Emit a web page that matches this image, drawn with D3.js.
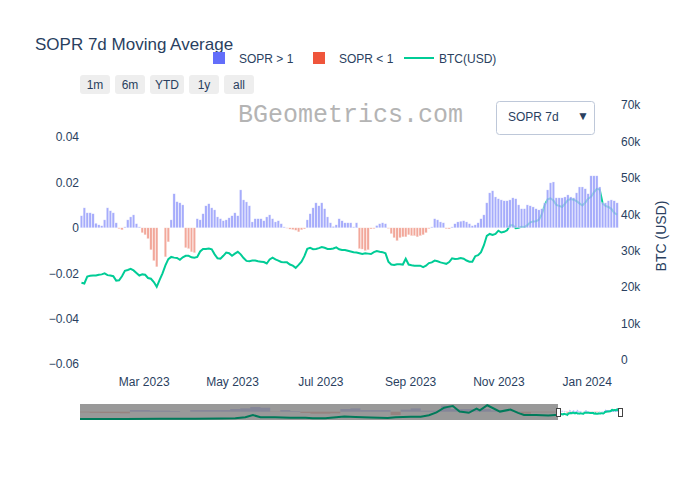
<!DOCTYPE html>
<html>
<head>
<meta charset="utf-8">
<script src="https://d3js.org/d3.v7.min.js"></script>
<style>
  body { margin: 0; background: #fff; }
  text { font-family: "Liberation Sans", Arial, sans-serif; fill: #2a3f5f; }
</style>
</head>
<body>
<svg id="chart" width="700" height="500"></svg>
<script>
// values, one entry every two days from this date
const startDate = new Date(2023, 0, 17);

const sopr = [
  .0053,.0088,.0066,.0066,.0062,.0020,.0013,.0009,.0035,.0088,.0075,.0066,.0022,-.0004,-.0009,.0004,
  .0035,.0048,.0057,.0018,.0004,-.0022,-.0031,-.0048,-.0097,-.0145,-.0172,0,0,-.0128,-.0062,.0035,
  .0150,.0115,.0110,.0101,-.0088,-.0092,-.0106,-.0110,.0040,.0035,.0062,.0097,.0106,.0088,.0079,.0048,
  .0040,.0031,.0035,.0044,.0053,.0066,.0053,.0167,.0123,.0114,.0097,.0026,.0040,.0040,.0040,.0031,
  .0048,.0057,.0040,.0026,.0031,.0018,.0004,-.0002,-.0006,-.0008,-.0011,-.0018,-.0009,-.0005,.0035,.0062,
  .0088,.0110,.0097,.0110,.0084,.0048,.0022,.0006,.0013,.0040,.0031,.0022,.0022,.0022,.0004,.0022,
  -.0092,-.0094,-.0101,-.0097,-.0005,-.0004,.0010,.0018,.0022,.0018,-.0003,-.0026,-.0044,-.0057,-.0044,-.0040,
  -.0040,-.0031,-.0035,-.0035,-.0040,-.0035,-.0031,-.0022,-.0004,.0004,.0040,.0035,.0026,.0022,-.0004,-.0005,
  .0004,.0018,.0026,.0029,.0031,.0026,.0018,.0009,.0013,.0022,.0040,.0057,.0110,.0154,.0163,.0136,
  .0128,.0123,.0119,.0119,.0123,.0132,.0128,.0101,.0084,.0084,.0101,.0097,.0092,.0084,.0079,.0084,
  .0110,.0167,.0198,.0202,.0132,.0132,.0132,.0136,.0145,.0136,.0132,.0154,.0180,.0180,.0172,.0150,
  .0229,.0229,.0229,.0180,.0110,.0110,.0119,.0123,.0119,.0110
];

const btc = [
  21.2,21.0,22.9,23.1,23.2,23.2,23.4,23.5,23.8,23.3,23.2,23.0,21.8,21.9,23.0,24.5,
  24.7,25.0,24.6,23.9,23.2,23.5,23.4,22.5,22.3,21.4,20.1,22.0,23.8,26.0,27.7,28.3,
  28.1,28.0,27.5,28.2,28.6,28.6,28.2,28.1,28.3,29.8,30.5,30.5,30.6,30.4,29.0,27.9,
  27.8,28.6,29.5,29.3,28.6,29.2,29.7,29.0,28.0,27.2,27.1,27.3,27.3,27.1,27.0,26.9,
  26.5,27.6,28.1,27.6,27.3,26.9,26.8,26.8,26.2,25.9,25.3,26.1,27.0,28.5,30.5,30.8,
  30.4,30.5,30.7,31.0,30.8,30.5,30.5,30.6,30.9,30.4,30.2,30.2,30.0,29.8,29.6,29.5,
  29.3,29.1,29.3,29.2,29.1,29.6,29.9,29.7,29.6,29.3,27.0,26.2,26.1,26.3,26.3,26.2,
  27.8,26.2,26.0,25.9,25.9,25.9,25.5,25.9,26.6,26.8,27.3,27.1,26.8,26.6,26.4,26.9,
  27.9,27.7,27.8,28.0,27.8,27.3,27.0,27.0,28.5,28.8,29.6,31.5,34.1,34.6,34.3,34.6,
  35.5,35.0,35.2,35.6,37.0,37.0,36.2,36.3,36.6,36.5,37.0,37.8,38.0,38.1,38.5,40.0,
  42.5,44.1,44.4,43.8,42.6,42.3,42.0,42.9,43.9,44.2,44.0,43.6,43.0,42.4,43.2,44.3,
  44.8,46.0,47.0,46.8,43.0,42.3,42.0,41.5,40.4,39.9
];

// older history, only visible in the range slider
const historyDates = [
  "2015-02-01","2015-11-01","2016-06-01","2017-01-01","2017-06-01","2017-09-01","2017-11-01","2017-12-17",
  "2018-02-01","2018-05-01","2018-08-01","2018-11-01","2018-12-15","2019-03-01","2019-06-25","2019-09-01",
  "2019-12-01","2020-03-15","2020-05-01","2020-08-01","2020-10-01","2020-11-20","2021-01-05","2021-02-20",
  "2021-03-15","2021-04-14","2021-05-25","2021-07-20","2021-09-05","2021-09-25","2021-11-09","2022-01-25",
  "2022-03-30","2022-05-15","2022-06-20","2022-09-01","2022-11-15","2023-01-15"
];
const historyBtc = [
  0.23,0.35,0.65,0.95,2.6,4.2,9,19,9,8.5,6.5,5.5,3.3,3.9,12,9.8,
  7.2,5.2,9,11.5,11,18,32,55,59,63,36,30,50,42,67,36,
  46,30,20,20,16.5,21
];
// one value every two months from Feb 2015
const historySopr = [
  -.005,-.008,-.01,-.01,-.012,.012,.012,.008,.008,.005,0,.012,.012,.012,.012,.02,
  .025,.035,.03,-.002,.012,.005,-.01,-.015,-.015,-.012,.02,.025,.012,.012,.012,-.025,
  .015,.025,.008,.008,.045,.02,.02,.02,.02,.01,.002,-.002,-.015,-.005,-.005,-.005
];

const leftTicks = [-0.06, -0.04, -0.02, 0, 0.02, 0.04];
const rightTicks = [0, 10, 20, 30, 40, 50, 60, 70];
const xTicks = [new Date(2023, 2, 1), new Date(2023, 4, 1), new Date(2023, 6, 1),
                new Date(2023, 8, 1), new Date(2023, 10, 1), new Date(2024, 0, 1)];
const rangeButtons = ["1m", "6m", "YTD", "1y", "all"];

const blue = "#636efa", red = "#ef553b", green = "#00cc96";

const dates = sopr.map((d, i) => d3.timeDay.offset(startDate, i * 2));
const svg = d3.select("#chart");

// scales
const x = d3.scaleTime()
  .domain([new Date(2023, 0, 16), new Date(2024, 0, 24)])
  .range([80, 620]);
const y = d3.scaleLinear().domain([-0.06, 0.04]).range([364, 137]);
const y2 = d3.scaleLinear().domain([0, 70]).range([360, 105]);

// BTC line, the bars are drawn over it
const line = d3.line().x((d, i) => x(dates[i])).y(d => y2(d));
svg.append("path")
  .datum(btc)
  .attr("d", line)
  .attr("fill", "none")
  .attr("stroke", green)
  .attr("stroke-width", 2);

svg.append("g").selectAll("rect")
  .data(sopr)
  .enter()
  .append("rect")
  .attr("x", (d, i) => x(dates[i]) - 1.2)
  .attr("width", 2.4)
  .attr("y", d => Math.min(y(d), y(0)))
  .attr("height", d => Math.abs(y(d) - y(0)))
  .attr("fill", d => d >= 0 ? "#9aa0fb" : "#f09c8d")
  .attr("fill-opacity", 0.88)
  .attr("stroke", "#fff")
  .attr("stroke-opacity", 0.6)
  .attr("stroke-width", 0.5);

// axes
const fmtLeft = d => d === 0 ? "0" : d3.format(".2f")(d).replace("-", "\u2212");
const left = svg.append("g")
  .attr("transform", "translate(79,0)")
  .call(d3.axisLeft(y).tickValues(leftTicks).tickFormat(fmtLeft).tickSize(0).tickPadding(0));
const right = svg.append("g")
  .attr("transform", "translate(621,0)")
  .call(d3.axisRight(y2).tickValues(rightTicks).tickFormat(d => d === 0 ? "0" : d + "k").tickSize(0).tickPadding(0));
const bottom = svg.append("g")
  .attr("transform", "translate(0,372)")
  .call(d3.axisBottom(x).tickValues(xTicks).tickFormat(d3.timeFormat("%b %Y")).tickSize(0).tickPadding(5));
[left, right, bottom].forEach(g => {
  g.select(".domain").remove();
  g.selectAll("text").style("font-size", "12px")
    .style("font-family", '"Liberation Sans", Arial, sans-serif').style("fill", "#2a3f5f");
});

svg.append("text")
  .attr("transform", "translate(666,236) rotate(-90)")
  .attr("text-anchor", "middle")
  .style("font-size", "14px")
  .text("BTC (USD)");

// title and watermark
svg.append("text").attr("x", 35).attr("y", 50).style("font-size", "17px")
  .text("SOPR 7d Moving Average");
svg.append("text").attr("x", 238).attr("y", 122)
  .style("font-family", '"Liberation Mono", monospace')
  .style("font-size", "25px")
  .style("fill", "#b4b4b4")
  .text("BGeometrics.com");

// legend
const legend = svg.append("g").style("font-size", "12px");
legend.append("rect").attr("x", 213).attr("y", 52).attr("width", 12).attr("height", 12).attr("fill", blue);
legend.append("text").attr("x", 239).attr("y", 63).text("SOPR > 1");
legend.append("rect").attr("x", 313).attr("y", 52).attr("width", 12).attr("height", 12).attr("fill", red);
legend.append("text").attr("x", 339).attr("y", 63).text("SOPR < 1");
legend.append("line").attr("x1", 404).attr("x2", 434).attr("y1", 58).attr("y2", 58)
  .attr("stroke", green).attr("stroke-width", 2);
legend.append("text").attr("x", 439).attr("y", 63).text("BTC(USD)");

// range selector buttons
const buttonWidths = [30, 30, 34, 30, 30];
let bx = 80;
rangeButtons.forEach((label, i) => {
  svg.append("rect").attr("x", bx).attr("y", 75).attr("width", buttonWidths[i]).attr("height", 19)
    .attr("rx", 3).attr("fill", "#eeeeee");
  svg.append("text").attr("x", bx + buttonWidths[i] / 2).attr("y", 88.5)
    .attr("text-anchor", "middle").style("font-size", "12px").text(label);
  bx += buttonWidths[i] + 5;
});

// dropdown
svg.append("rect").attr("x", 496.5).attr("y", 101.5).attr("width", 98).attr("height", 33)
  .attr("rx", 3).attr("fill", "#fff").attr("stroke", "#bec8d9");
svg.append("text").attr("x", 508).attr("y", 121).style("font-size", "12px").text("SOPR 7d");
svg.append("text").attr("x", 583).attr("y", 120).attr("text-anchor", "middle")
  .style("font-size", "12px").text("\u25BC");

// range slider
const sx = d3.scaleTime()
  .domain([new Date(2015, 1, 1), x.domain()[1]])
  .range([80, 620]);
const sy2 = d3.scaleLinear().domain([0, 73]).range([419, 404]);
const sy = v => 411.7 - v * 133;
const slider = svg.append("g");

const historyMonths = historySopr.map((d, i) => d3.timeMonth.offset(new Date(2015, 1, 1), i * 2));
slider.append("g").selectAll("rect")
  .data(historySopr)
  .enter()
  .append("rect")
  .attr("x", (d, i) => sx(historyMonths[i]))
  .attr("width", (d, i) => sx(d3.timeMonth.offset(historyMonths[i], 2)) - sx(historyMonths[i]))
  .attr("y", d => Math.min(sy(d), sy(0)))
  .attr("height", d => Math.abs(sy(d) - sy(0)))
  .attr("fill", d => d >= 0 ? blue : red)
  .attr("opacity", 0.22);
slider.append("g").selectAll("rect")
  .data(sopr)
  .enter()
  .append("rect")
  .attr("x", (d, i) => sx(dates[i]))
  .attr("width", 0.5)
  .attr("y", d => Math.min(sy(d), sy(0)))
  .attr("height", d => Math.abs(sy(d) - sy(0)))
  .attr("fill", d => d >= 0 ? blue : red)
  .attr("opacity", 0.4);

const sliderDates = historyDates.map(d => d3.isoParse(d)).concat(dates);
const sliderBtc = historyBtc.concat(btc);
slider.append("path")
  .datum(sliderBtc)
  .attr("d", d3.line().x((d, i) => sx(sliderDates[i])).y(d => sy2(d)))
  .attr("fill", "none")
  .attr("stroke", green)
  .attr("stroke-width", 2);

slider.append("rect").attr("x", 80).attr("y", 404).attr("width", 478).attr("height", 16)
  .attr("fill", "#000").attr("opacity", 0.4);
[556.5, 618.5].forEach(hx => {
  slider.append("rect").attr("x", hx).attr("y", 408.5).attr("width", 4).attr("height", 8)
    .attr("fill", "#fff").attr("stroke", "#444");
});
</script>
</body>
</html>
